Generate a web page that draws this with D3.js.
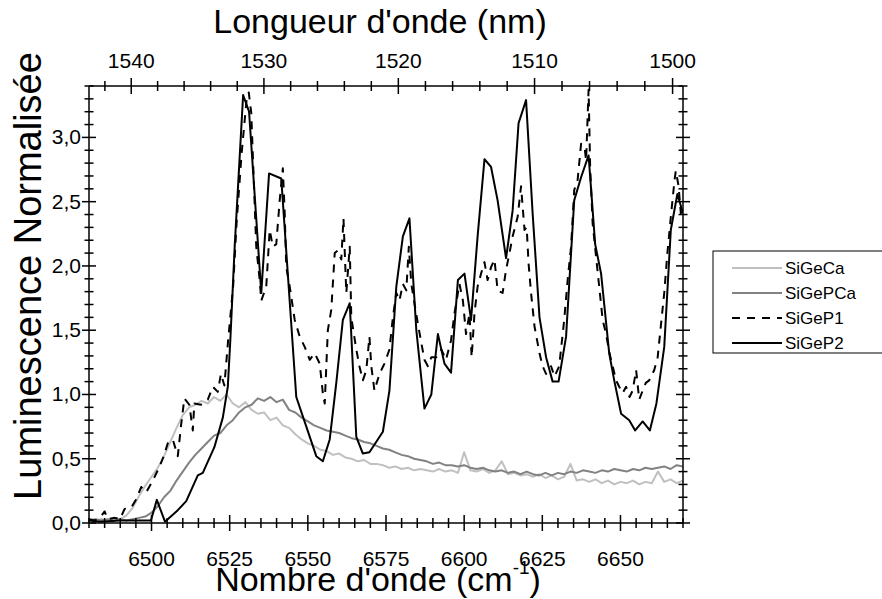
<!DOCTYPE html>
<html><head><meta charset="utf-8">
<script src="https://cdn.jsdelivr.net/npm/d3@7"></script>
<style>body{margin:0;background:#fff}svg{display:block}svg text{font-family:Arial,"Liberation Sans",Helvetica,sans-serif;fill:#000}</style>
</head><body>
<svg id="chart" width="882" height="599"></svg>
<script>
// ---- data ----
const seriesNames = ["SiGeCa","SiGePCa","SiGeP1","SiGeP2"];
const bottomTickLabels = [6500,6525,6550,6575,6600,6625,6650];
const topTickLabels = [1540,1530,1520,1510,1500];
const yTickLabels = [0,0.5,1.0,1.5,2.0,2.5,3.0];

const wnGray = [6480,6482,6484,6486,6488,6490,6492,6494,6496,6498,6500,6502,6504,6506,6508,6510,6512,6514,6516,6518,6520,6522,6524,6526,6528,6530,6532,6534,6536,6538,6540,6542,6544,6546,6548,6550,6552,6554,6556,6558,6560,6562,6564,6566,6568,6570,6572,6574,6576,6578,6580,6582,6584,6586,6588,6590,6592,6594,6596,6598,6600,6602,6604,6606,6608,6610,6612,6614,6616,6618,6620,6622,6624,6626,6628,6630,6632,6634,6636,6638,6640,6642,6644,6646,6648,6650,6652,6654,6656,6658,6660,6662,6664,6666,6668,6670];
const valCa = [0.03,0.02,0.03,0.02,0.04,0.03,0.06,0.12,0.21,0.29,0.36,0.43,0.52,0.63,0.74,0.84,0.90,0.92,0.95,0.93,0.98,0.95,1.00,0.93,0.90,0.94,0.88,0.85,0.86,0.80,0.82,0.76,0.74,0.69,0.65,0.62,0.60,0.57,0.56,0.53,0.54,0.51,0.50,0.48,0.49,0.46,0.46,0.45,0.43,0.44,0.42,0.43,0.41,0.42,0.41,0.40,0.42,0.40,0.41,0.39,0.55,0.41,0.40,0.42,0.39,0.41,0.48,0.38,0.39,0.37,0.38,0.36,0.38,0.35,0.37,0.34,0.36,0.46,0.33,0.34,0.32,0.34,0.31,0.33,0.30,0.32,0.31,0.33,0.30,0.32,0.31,0.40,0.32,0.34,0.31,0.33];
const valPCa = [0.02,0.03,0.02,0.03,0.02,0.03,0.02,0.03,0.04,0.05,0.08,0.13,0.20,0.25,0.33,0.40,0.47,0.53,0.58,0.63,0.68,0.70,0.76,0.80,0.86,0.90,0.92,0.97,0.95,0.98,0.94,0.96,0.88,0.86,0.82,0.79,0.76,0.74,0.72,0.71,0.70,0.68,0.66,0.65,0.63,0.62,0.60,0.58,0.57,0.55,0.53,0.52,0.50,0.49,0.48,0.46,0.47,0.45,0.45,0.44,0.45,0.43,0.42,0.43,0.41,0.40,0.41,0.39,0.40,0.38,0.40,0.38,0.37,0.39,0.37,0.39,0.38,0.40,0.39,0.41,0.40,0.39,0.41,0.40,0.42,0.41,0.40,0.42,0.41,0.43,0.42,0.43,0.44,0.42,0.45,0.44];

const wnP1 = [6480.0,6481.9,6483.5,6485.0,6486.0,6488.3,6489.9,6491.4,6493.5,6495.0,6496.7,6498.3,6500.4,6502.6,6503.9,6505.2,6506.8,6508.4,6509.4,6510.5,6512.1,6513.2,6513.7,6515.8,6518.0,6519.6,6521.2,6522.2,6523.3,6524.5,6526.1,6527.2,6528.8,6530.4,6531.1,6531.9,6532.5,6533.5,6534.6,6535.1,6536.7,6537.8,6538.8,6539.9,6541.0,6542.0,6542.6,6543.1,6544.2,6545.8,6547.4,6549.0,6550.6,6552.2,6553.8,6554.8,6555.4,6556.4,6557.5,6558.6,6559.6,6560.7,6561.4,6562.3,6563.4,6563.9,6565.5,6566.5,6567.6,6568.7,6569.7,6570.3,6571.3,6572.9,6574.5,6576.1,6577.2,6578.3,6579.3,6580.4,6581.5,6582.3,6583.1,6584.1,6585.2,6586.3,6587.3,6588.4,6589.5,6591.1,6592.7,6594.2,6595.8,6596.9,6598.5,6599.6,6600.6,6601.7,6602.4,6603.3,6604.3,6605.4,6606.5,6607.5,6608.6,6609.7,6610.7,6612.3,6613.4,6614.5,6615.5,6617.1,6618.2,6619.3,6620.0,6620.6,6621.4,6622.5,6624.1,6625.1,6626.2,6627.8,6628.9,6630.4,6632.0,6633.1,6634.2,6635.2,6636.3,6637.4,6638.5,6639.0,6639.8,6640.3,6641.1,6642.2,6643.2,6644.3,6645.4,6646.5,6647.5,6648.6,6649.6,6650.7,6651.8,6652.9,6653.9,6655.0,6656.0,6657.1,6658.1,6659.2,6660.8,6661.9,6662.9,6664.0,6665.0,6666.1,6667.3,6667.7,6668.6,6669.3,6670.0];
const valP1 = [0.03,0.02,0.04,0.09,0.03,0.04,0.03,0.11,0.12,0.18,0.28,0.24,0.33,0.44,0.52,0.62,0.65,0.52,0.75,0.97,0.92,0.72,0.93,0.92,0.96,1.06,1.02,1.16,1.07,1.42,1.84,2.33,2.87,3.29,3.35,3.19,2.80,2.15,1.89,1.73,1.84,2.28,2.15,2.17,2.51,2.76,2.41,1.99,1.84,1.58,1.45,1.37,1.27,1.32,1.24,1.01,0.93,1.50,1.66,2.10,2.12,2.05,2.37,1.79,2.15,1.60,1.35,1.22,1.11,1.19,1.45,1.22,1.03,1.16,1.24,1.35,1.60,1.79,1.73,1.86,1.81,2.15,1.86,1.71,1.55,1.40,1.27,1.22,1.29,1.29,1.35,1.27,1.42,1.63,1.86,1.73,1.47,1.63,1.29,1.63,1.84,1.94,2.03,1.89,1.99,2.05,1.81,1.79,1.97,2.10,2.23,2.38,2.62,2.28,2.30,2.02,1.79,1.53,1.32,1.22,1.16,1.22,1.14,1.22,1.58,1.89,2.15,2.59,2.67,2.95,2.93,2.82,3.37,2.77,2.33,2.07,1.84,1.58,1.47,1.32,1.22,1.11,1.06,1.01,1.06,0.98,1.03,1.19,0.96,1.03,1.09,1.11,1.19,1.29,1.53,1.79,2.10,2.38,2.67,2.74,2.62,2.41,2.46];

const wnP2 = [6480,6483.5,6489.9,6496.3,6499.8,6501.7,6504.3,6508.4,6511.1,6514.8,6516.4,6520.1,6522.8,6524.4,6525.2,6526.6,6529.3,6531.2,6535.1,6537.6,6541.5,6546.3,6548.4,6552.7,6554.8,6557.0,6559.1,6561.2,6563.4,6565.5,6567.6,6569.7,6574.0,6576.1,6578.3,6580.4,6582.5,6584.7,6587.3,6589.5,6591.6,6593.7,6595.8,6598.0,6600.1,6602.2,6604.3,6606.5,6608.6,6610.7,6613.4,6615.5,6617.4,6619.8,6621.9,6624.1,6626.2,6628.3,6630.2,6632.6,6635.2,6637.4,6639.8,6641.9,6643.8,6646.4,6648.0,6650.2,6652.8,6654.7,6657.1,6659.4,6661.5,6664.0,6666.1,6668.2,6670];
const valP2 = [0.02,0.01,0.02,0.02,0.02,0.18,0.01,0.10,0.17,0.37,0.39,0.59,0.82,1.06,1.42,2.15,3.33,3.20,1.79,2.72,2.68,0.98,0.83,0.52,0.48,0.65,1.09,1.58,1.71,0.67,0.54,0.55,0.71,1.03,1.84,2.23,2.37,1.50,0.89,1.00,1.47,1.24,1.17,1.89,1.94,1.58,2.23,2.83,2.77,2.51,2.06,2.43,3.11,3.29,2.41,1.60,1.29,1.10,1.10,1.45,2.51,2.69,2.86,2.17,1.94,1.32,1.11,0.85,0.80,0.72,0.79,0.72,0.93,1.37,2.28,2.56,2.41];

// ---- layout ----
const svg = d3.select("#chart");
const L = 89, R = 683, T = 86, B = 523;
const x = d3.scaleLinear().domain([6480, 6670]).range([L, R]);
const y = d3.scaleLinear().domain([0, 3.4]).range([B, T]);
const fmtY = d => d3.format(".1f")(d).replace(".", ",");

svg.append("defs").append("clipPath").attr("id","clip")
  .append("rect").attr("x",L).attr("y",T-20).attr("width",R-L).attr("height",B-T+20);

const series = [
  {name: seriesNames[0], xs: wnGray, ys: valCa, color: "#c0c0c0", dash: null, w: 2},
  {name: seriesNames[1], xs: wnGray, ys: valPCa, color: "#828282", dash: null, w: 2},
  {name: seriesNames[2], xs: wnP1, ys: valP1, color: "#000", dash: "8,7", w: 2},
  {name: seriesNames[3], xs: wnP2, ys: valP2, color: "#000", dash: null, w: 2}
];
const line = d3.line().x(d => x(d[0])).y(d => y(d[1]));
const gLines = svg.append("g").attr("clip-path","url(#clip)");
series.forEach(s => {
  gLines.append("path").datum(s.xs.map((v,i) => [v, s.ys[i]]))
    .attr("d", line).attr("fill","none").attr("stroke", s.color)
    .attr("stroke-width", s.w).attr("stroke-linejoin","round")
    .attr("stroke-dasharray", s.dash);
});

// frame
const ax = svg.append("g").attr("stroke","#000").attr("stroke-width",1.5);
ax.append("line").attr("x1",L).attr("x2",R).attr("y1",B).attr("y2",B);
ax.append("line").attr("x1",L).attr("x2",R).attr("y1",T).attr("y2",T);
ax.append("line").attr("x1",L).attr("x2",L).attr("y1",T).attr("y2",B);
ax.append("line").attr("x1",R).attr("x2",R).attr("y1",T).attr("y2",B);

// bottom ticks every 5
const bt = d3.range(6480, 6671, 5);
ax.selectAll(".bt").data(bt).join("line")
  .attr("x1", d => x(d)).attr("x2", d => x(d))
  .attr("y1", d => B - (d % 25 === 0 ? 8 : 5)).attr("y2", d => B + (d % 25 === 0 ? 8 : 5));
svg.selectAll(".bl").data(bottomTickLabels).join("text")
  .attr("x", d => x(d)).attr("y", 566).attr("text-anchor","middle")
  .attr("font-size", 21).text(d => d);

// top ticks (wavelength) every 2 nm
const tt = d3.range(1500, 1544, 2);
ax.selectAll(".tt").data(tt.filter(n => x(1e7/n) >= L - 0.5 && x(1e7/n) <= R + 0.5)).join("line")
  .attr("x1", d => x(1e7/d)).attr("x2", d => x(1e7/d))
  .attr("y1", d => T - (d % 10 === 0 ? 8 : 5)).attr("y2", d => T + (d % 10 === 0 ? 8 : 5));
svg.selectAll(".tl").data(topTickLabels).join("text")
  .attr("x", d => x(1e7/d)).attr("y", 68).attr("text-anchor","middle")
  .attr("font-size", 21).text(d => d);

// y ticks every 0.1, both sides
const yt = d3.range(0, 35).map(i => i / 10);
[L, R].forEach(px => {
  ax.selectAll(null).data(yt).join("line")
    .attr("y1", d => y(d)).attr("y2", d => y(d))
    .attr("x1", (d,i) => px - (i % 5 === 0 ? 7 : 4.5)).attr("x2", (d,i) => px + (i % 5 === 0 ? 7 : 4.5));
});
svg.selectAll(".yl").data(yTickLabels).join("text")
  .attr("x", 81).attr("y", d => y(d) + 7).attr("text-anchor","end")
  .attr("font-size", 21).text(fmtY);

// titles
svg.append("text").attr("x", 380).attr("y", 33).attr("text-anchor","middle")
  .attr("font-size", 34).text("Longueur d'onde (nm)");
const xt = svg.append("text").attr("x", 378).attr("y", 591).attr("text-anchor","middle").attr("font-size", 34);
xt.append("tspan").text("Nombre d'onde (cm");
xt.append("tspan").attr("dy", -17).attr("font-size", 19).text("-1");
xt.append("tspan").attr("dy", 17).text(")");
svg.append("text").attr("transform","translate(41,276) rotate(-90)").attr("text-anchor","middle")
  .attr("font-size", 38).text("Luminescence Normalisée");

// legend
const lg = svg.append("g");
lg.append("rect").attr("x",713).attr("y",251).attr("width",200).attr("height",102)
  .attr("fill","#fff").attr("stroke","#000").attr("stroke-width",1);
series.forEach((s,i) => {
  const yy = 268 + i * 25;
  lg.append("line").attr("x1",732).attr("x2",782).attr("y1",yy).attr("y2",yy)
    .attr("stroke", s.color).attr("stroke-width", 2).attr("stroke-dasharray", s.dash);
  lg.append("text").attr("x",785).attr("y",yy+6).attr("font-size",17).text(s.name);
});
</script>
</body></html>
